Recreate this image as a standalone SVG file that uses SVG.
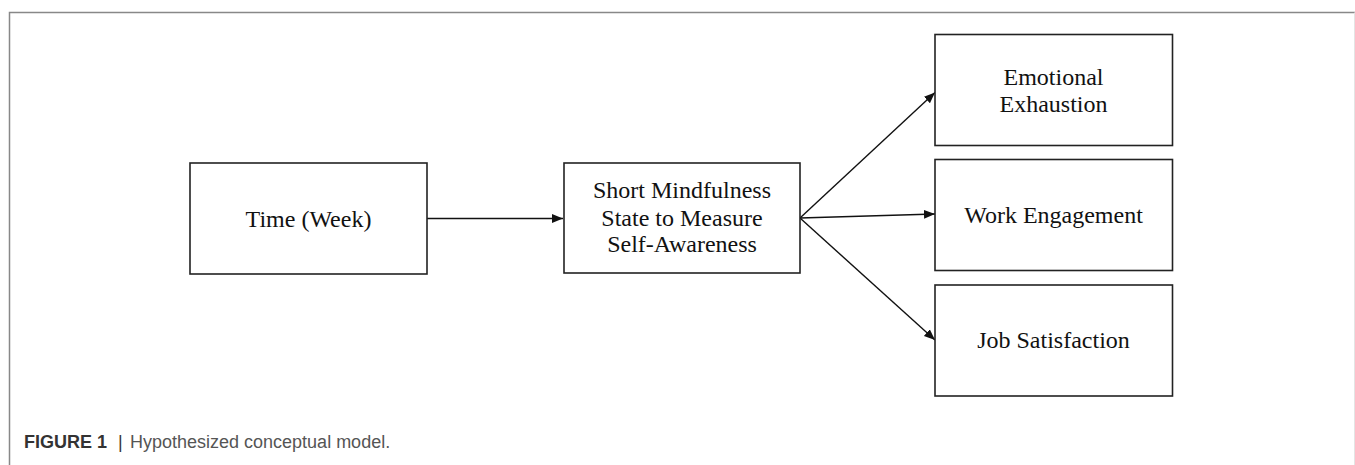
<svg xmlns="http://www.w3.org/2000/svg" width="1355" height="465" viewBox="0 0 1355 465">
<defs>
<style>
.box{fill:#fff;stroke:#222;stroke-width:1.6}
.t{font-family:"Liberation Serif","Times New Roman",serif;font-size:24px;fill:#111;text-anchor:middle}
.c{stroke:#111;stroke-width:1.4;fill:none;marker-end:url(#ah)}
.cap{font-family:"Liberation Sans",Arial,sans-serif;font-size:18px}
</style>
<marker id="ah" viewBox="0 0 10 10" refX="10" refY="5" markerWidth="11" markerHeight="11" markerUnits="userSpaceOnUse" orient="auto">
<path d="M0,1 L10,5 L0,9 Z" fill="#111"/>
</marker>
</defs>
<rect x="0" y="0" width="1355" height="465" fill="#fff"/>
<g id="frame">
<path d="M9.5,465 V12.5 H1355" fill="none" stroke="#888" stroke-width="1.5"/>
<path d="M1354.5,12.5 V465" fill="none" stroke="#e4e4e4" stroke-width="1"/>
</g>
<g id="connectors">
<line class="c" x1="427" y1="218.5" x2="563" y2="218.5"/>
<line class="c" x1="800" y1="218" x2="935" y2="92.5"/>
<line class="c" x1="800" y1="218" x2="935" y2="214"/>
<line class="c" x1="800" y1="218" x2="935" y2="340"/>
</g>
<g id="time">
<rect class="box" x="190" y="163" width="237" height="111"/>
<text class="t" x="308.5" y="226.5">Time (Week)</text>
</g>
<g id="mindfulness">
<rect class="box" x="564" y="163" width="236" height="110"/>
<text class="t" x="682" y="197.5">Short Mindfulness</text>
<text class="t" x="682" y="225.5">State to Measure</text>
<text class="t" x="682" y="251.5">Self-Awareness</text>
</g>
<g id="exhaustion">
<rect class="box" x="935" y="34.5" width="237.5" height="111"/>
<text class="t" x="1053.5" y="85">Emotional</text>
<text class="t" x="1053.5" y="111.5">Exhaustion</text>
</g>
<g id="engagement">
<rect class="box" x="935" y="159.5" width="237.5" height="111"/>
<text class="t" x="1053.5" y="223">Work Engagement</text>
</g>
<g id="satisfaction">
<rect class="box" x="935" y="285" width="237.5" height="111"/>
<text class="t" x="1053.5" y="348">Job Satisfaction</text>
</g>
<g id="caption">
<text class="cap" x="24" y="448"><tspan font-weight="bold" fill="#333">FIGURE 1</tspan><tspan fill="#333" x="118">|</tspan><tspan fill="#555" x="130">Hypothesized conceptual model.</tspan></text>
</g>
</svg>
